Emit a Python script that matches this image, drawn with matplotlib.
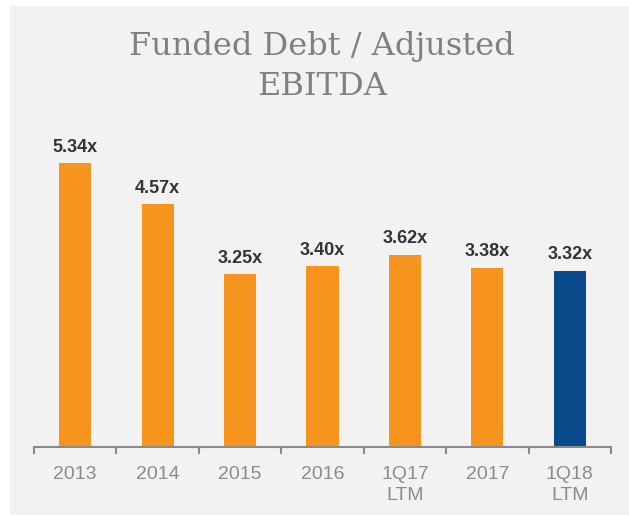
import matplotlib.pyplot as plt
from matplotlib.patches import Rectangle

categories = ['2013', '2014', '2015', '2016', '1Q17\nLTM', '2017', '1Q18\nLTM']
values = [5.34, 4.57, 3.25, 3.40, 3.62, 3.38, 3.32]
labels = ['5.34x', '4.57x', '3.25x', '3.40x', '3.62x', '3.38x', '3.32x']
colors = ['#f7941e'] * 6 + ['#0b4a8a']

W, H = 629, 517
fig = plt.figure(figsize=(W / 100, H / 100), dpi=100)
fig.patch.set_facecolor('white')

# light gray panel behind everything
fig.patches.append(Rectangle((10 / W, 2 / H), 1, 509 / H, transform=fig.transFigure,
                             facecolor='#f2f2f2', edgecolor='none', zorder=-10))

fig.text(322 / W, 1 - 55 / H, 'Funded Debt / Adjusted', family='DejaVu Serif', fontsize=23,
         color='#808080', ha='center', va='baseline')
fig.text(322 / W, 1 - 95 / H, 'EBITDA', family='DejaVu Serif', fontsize=23,
         color='#808080', ha='center', va='baseline')

ymax = 6.0
px_per_unit = 53.1
ax = fig.add_axes([34 / W, (H - 447) / H, 577 / W, ymax * px_per_unit / H])
ax.set_facecolor('none')

x = range(len(categories))
ax.bar(x, values, width=0.39, color=colors, zorder=2)
for i, (v, t) in enumerate(zip(values, labels)):
    ax.text(i, v + 0.22, t, ha='center', va='baseline', fontsize=13, fontweight='bold',
            color='#333333', family='Liberation Sans')

ax.set_xlim(-0.5, len(categories) - 0.5)
ax.set_ylim(0, ymax)
for s in ['top', 'right', 'left']:
    ax.spines[s].set_visible(False)
ax.spines['bottom'].set_color('#8a8a8a')
ax.spines['bottom'].set_linewidth(1.5)
ax.set_yticks([])

ax.set_xticks(list(x))
ax.set_xticklabels(categories, fontsize=14, color='#8c8c8c', family='Liberation Sans',
                   linespacing=1.25)
ax.tick_params(axis='x', which='major', length=0, pad=14)
ax.set_xticks([i - 0.5 for i in range(len(categories) + 1)], minor=True)
ax.tick_params(axis='x', which='minor', length=5, width=1.5, color='#8a8a8a', direction='out')

fig.savefig('out.png', dpi=100, facecolor=fig.get_facecolor())
